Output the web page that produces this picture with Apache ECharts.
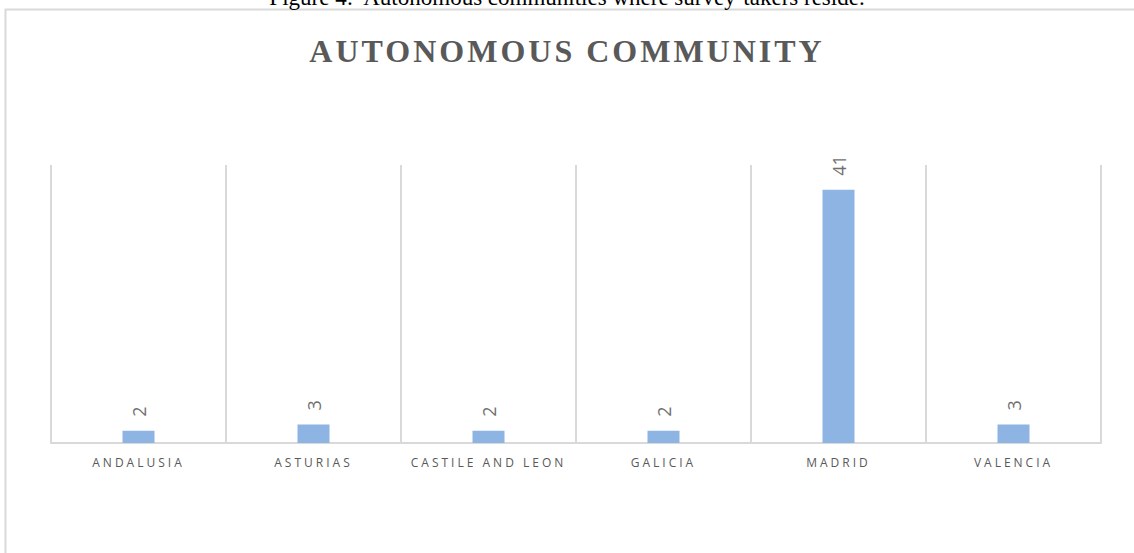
<!DOCTYPE html>
<html>
<head>
<meta charset="utf-8">
<style>
  html, body { margin: 0; padding: 0; background: #ffffff; }
  #chart { width: 1134px; height: 553px; }
</style>
<script src="https://cdn.jsdelivr.net/npm/echarts@6/dist/echarts.min.js"></script>
</head>
<body>
<div id="chart"></div>
<script>
// Survey respondents by autonomous community
const categories = ['ANDALUSIA', 'ASTURIAS', 'CASTILE AND LEON', 'GALICIA', 'MADRID', 'VALENCIA'];
const counts = [2, 3, 2, 2, 41, 3];

const chartTitle = 'AUTONOMOUS COMMUNITY';
const caption = 'Figure 4:  Autonomous communities where survey-takers reside.';

const GRID_COLOR = '#d9d9d9';
const TEXT_COLOR = '#595959';

const chart = echarts.init(document.getElementById('chart'), null, { renderer: 'svg' });

chart.setOption({
  animation: false,
  backgroundColor: '#ffffff',
  title: {
    text: chartTitle,
    left: 'center',
    top: 30,
    textStyle: {
      fontFamily: '"Liberation Serif", "Times New Roman", serif',
      fontWeight: 'bold',
      fontSize: 32,
      color: TEXT_COLOR
    }
  },
  graphic: [
    {
      // chart frame
      type: 'rect',
      silent: true,
      shape: { x: 5.5, y: 9.5, width: 1300, height: 700 },
      style: { fill: 'none', stroke: GRID_COLOR, lineWidth: 2 }
    },
    {
      // figure caption above the frame
      type: 'text',
      silent: true,
      x: 567,
      y: -3,
      style: {
        text: caption,
        fontFamily: '"Liberation Serif", "Times New Roman", serif',
        fontSize: 23,
        fill: '#000000',
        align: 'center',
        verticalAlign: 'middle'
      }
    }
  ],
  grid: { left: 51, right: 33, top: 165, bottom: 110 },
  xAxis: {
    type: 'category',
    data: categories,
    boundaryGap: true,
    axisLine: { show: true, lineStyle: { color: GRID_COLOR, width: 2 } },
    axisTick: { show: false },
    splitLine: { show: true, interval: 0, lineStyle: { color: GRID_COLOR, width: 2 } },
    axisLabel: {
      interval: 0,
      margin: 13,
      color: TEXT_COLOR,
      fontFamily: '"Open Sans", sans-serif',
      fontSize: 12
    }
  },
  yAxis: {
    type: 'value',
    min: 0,
    max: 45,
    show: false,
    splitLine: { show: false }
  },
  series: [{
    type: 'bar',
    data: counts,
    barWidth: 32,
    itemStyle: { color: '#8eb4e3' },
    label: {
      show: true,
      position: 'top',
      rotate: 90,
      align: 'left',
      verticalAlign: 'middle',
      distance: 14,
      color: '#6f6f6f',
      fontFamily: '"Open Sans", sans-serif',
      fontSize: 18
    }
  }]
});

// letter spacing for the title and the category labels
function spaceLetters() {
  const texts = document.querySelectorAll('#chart svg text');
  texts.forEach(function (t) {
    const s = t.textContent;
    if (s === chartTitle) {
      t.setAttribute('letter-spacing', '3');
    } else if (categories.indexOf(s) >= 0) {
      t.setAttribute('letter-spacing', '3');
    }
  });
}
chart.on('finished', spaceLetters);
setTimeout(spaceLetters, 50);
</script>
</body>
</html>
